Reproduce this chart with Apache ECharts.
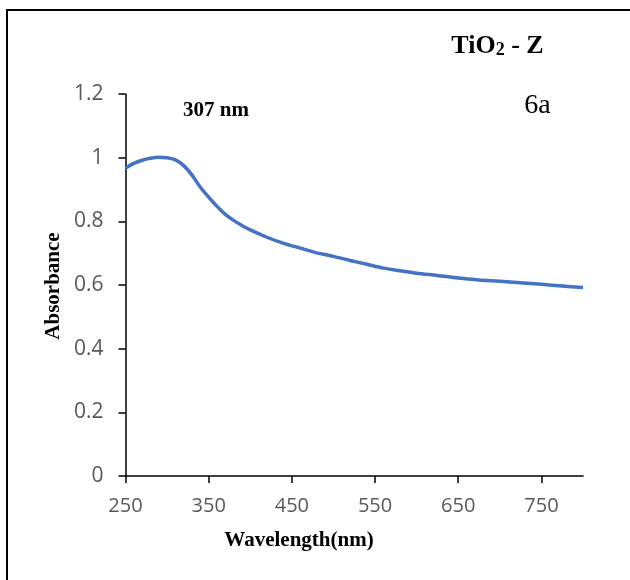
<!DOCTYPE html>
<html>
<head>
<meta charset="utf-8">
<script src="https://cdn.jsdelivr.net/npm/echarts@6/dist/echarts.min.js"></script>
<style>
html,body{margin:0;padding:0;background:#fff;}
#chart{width:630px;height:580px;}
</style>
</head>
<body>
<div id="chart"></div>
<script>
// Data
var wavelength = [250, 260, 270, 280, 290, 300, 310, 320, 330, 340, 350, 360, 370, 380, 390, 400,
  420, 440, 460, 480, 500, 520, 540, 560, 580, 600, 625, 650, 675, 700, 725, 750, 775, 800];
var absorbance = [0.967, 0.982, 0.992, 0.998, 1.001, 1.000, 0.993, 0.975, 0.945, 0.907, 0.876, 0.847, 0.822, 0.803, 0.787, 0.773,
  0.750, 0.731, 0.716, 0.701, 0.690, 0.677, 0.665, 0.653, 0.645, 0.637, 0.630, 0.622, 0.616, 0.612, 0.607, 0.602, 0.597, 0.592];
var xTicks = [250, 350, 450, 550, 650, 750];
var yTicks = [0, 0.2, 0.4, 0.6, 0.8, 1, 1.2];
var xTitle = 'Wavelength(nm)';
var yTitle = 'Absorbance';
var peakLabel = '307 nm';
var panelLabel = '6a';

var points = wavelength.map(function (w, i) { return [w, absorbance[i]]; });

var chart = echarts.init(document.getElementById('chart'));
var serif = '"Liberation Serif", "Times New Roman", serif';
var sans = '"Open Sans", sans-serif';

chart.setOption({
  animation: false,
  backgroundColor: '#ffffff',
  grid: { left: 125.5, right: 47, top: 94, bottom: 104, containLabel: false },
  xAxis: {
    type: 'value', min: 250, max: 800,
    axisLine: { show: true, onZero: false, lineStyle: { color: '#000', width: 1.5 } },
    axisTick: { show: true, length: 7, lineStyle: { color: '#000', width: 1.5 }, customValues: xTicks },
    axisLabel: { color: '#595959', fontFamily: sans, fontSize: 20, margin: 20, customValues: xTicks },
    splitLine: { show: false }
  },
  yAxis: {
    type: 'value', min: 0, max: 1.2, interval: 0.2,
    axisLine: { show: true, onZero: false, lineStyle: { color: '#000', width: 1.5 } },
    axisTick: { show: true, length: 7, lineStyle: { color: '#000', width: 1.5 }, customValues: yTicks },
    axisLabel: { color: '#595959', fontFamily: sans, fontSize: 21, margin: 22, customValues: yTicks },
    splitLine: { show: false }
  },
  series: [{
    type: 'line',
    data: points,
    showSymbol: false,
    smooth: 0.3,
    lineStyle: { color: '#4472C4', width: 3.5 },
    itemStyle: { color: '#4472C4' }
  }],
  graphic: [
    { type: 'rect', silent: true, shape: { x: 7, y: 10, width: 700, height: 700 },
      style: { fill: 'none', stroke: '#000', lineWidth: 2 } },
    { type: 'text', x: 299, y: 541, silent: true,
      style: { text: xTitle, font: 'bold 21px ' + serif, fill: '#000', align: 'center', verticalAlign: 'middle' } },
    { type: 'text', x: 54, y: 286, rotation: Math.PI / 2, silent: true,
      style: { text: yTitle, font: 'bold 21px ' + serif, fill: '#000', align: 'center', verticalAlign: 'middle' } },
    { type: 'text', x: 216, y: 111, silent: true,
      style: { text: peakLabel, font: 'bold 21px ' + serif, fill: '#000', align: 'center', verticalAlign: 'middle' } },
    { type: 'text', x: 537.5, y: 106, silent: true,
      style: { text: panelLabel, font: '28px ' + serif, fill: '#000', align: 'center', verticalAlign: 'middle' } },
    { type: 'text', x: 497.5, y: 45, silent: true,
      style: {
        text: '{a|TiO}{s|2}{a| - Z}', align: 'center', verticalAlign: 'middle',
        rich: {
          a: { fontFamily: serif, fontWeight: 'bold', fontSize: 26, fill: '#000', color: '#000', verticalAlign: 'bottom', lineHeight: 28 },
          s: { fontFamily: serif, fontWeight: 'bold', fontSize: 18, fill: '#000', color: '#000', verticalAlign: 'bottom', lineHeight: 26 }
        }
      } }
  ]
});
</script>
</body>
</html>
